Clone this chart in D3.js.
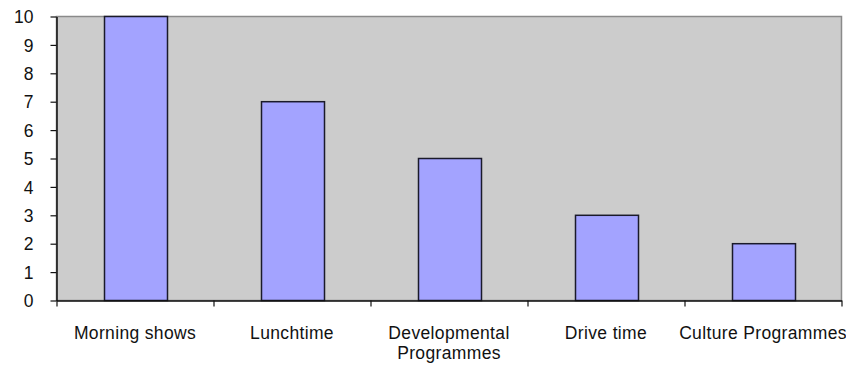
<!DOCTYPE html>
<html><head><meta charset="utf-8">
<script src="https://cdn.jsdelivr.net/npm/d3@7"></script>
<style>html,body{margin:0;padding:0;background:#fff;}svg{display:block;}</style>
</head><body>
<svg id="chart" width="846" height="365"></svg>
<script>
const categories = [["Morning shows"], ["Lunchtime"], ["Developmental", "Programmes"], ["Drive time"], ["Culture Programmes"]];
const values = [10, 7, 5, 3, 2];
const yTicks = [0, 1, 2, 3, 4, 5, 6, 7, 8, 9, 10];

const svg = d3.select("#chart");
const L = 56.5, R = 841.5, T = 16.5, B = 300.5;
const font = "'Liberation Sans', Arial, sans-serif";

const x = d3.scaleBand().domain(d3.range(values.length)).range([L, R]).paddingInner(0.6).paddingOuter(0.3);
const y = d3.scaleLinear().domain([0, 10]).range([B, T]);

// plot area
svg.append("rect").attr("x", L).attr("y", T).attr("width", R - L).attr("height", B - T)
  .attr("fill", "#cccccc").attr("stroke", "#8a8a8a").attr("stroke-width", 1.5);

// bars
svg.selectAll("rect.bar").data(values).join("rect").attr("class", "bar")
  .attr("x", (d, i) => Math.round(x(i)) + 0.5)
  .attr("y", d => y(d))
  .attr("width", Math.round(x.bandwidth()))
  .attr("height", d => B - y(d))
  .attr("fill", "#a3a3ff").attr("stroke", "#1a1a2a").attr("stroke-width", 1.5);

// y axis
const yAxis = svg.append("g").attr("transform", `translate(${L},0)`)
  .call(d3.axisLeft(y).tickValues(yTicks).tickSize(6).tickPadding(17).tickSizeOuter(0));
yAxis.select(".domain").attr("stroke", "#111").attr("stroke-width", 1.5);
yAxis.selectAll(".tick line").attr("stroke", "#111").attr("stroke-width", 1.2);
yAxis.selectAll("text").attr("font-family", font).attr("font-size", "17.5px").attr("fill", "#111").attr("dy", "0.35em");

// x axis
const xb = d3.scaleLinear().domain([0, values.length]).range([L, R]);
const xAxis = svg.append("g").attr("transform", `translate(0,${B})`)
  .call(d3.axisBottom(xb).tickValues(d3.range(values.length + 1)).tickSize(6).tickFormat("").tickSizeOuter(0));
xAxis.select(".domain").attr("stroke", "#111").attr("stroke-width", 1.5);
xAxis.selectAll(".tick line").attr("stroke", "#111").attr("stroke-width", 1.2);

// category labels
const lab = svg.append("g").selectAll("text").data(categories).join("text")
  .attr("x", (d, i) => x(i) + x.bandwidth() / 2)
  .attr("y", 339)
  .attr("text-anchor", "middle")
  .attr("font-family", font).attr("font-size", "17.5px").attr("letter-spacing", "0.35px").attr("fill", "#111");
lab.selectAll("tspan").data(d => d).join("tspan")
  .attr("x", function () { return d3.select(this.parentNode).attr("x"); })
  .attr("dy", (d, i) => i === 0 ? 0 : 19.5)
  .text(d => d);
</script>
</body></html>
